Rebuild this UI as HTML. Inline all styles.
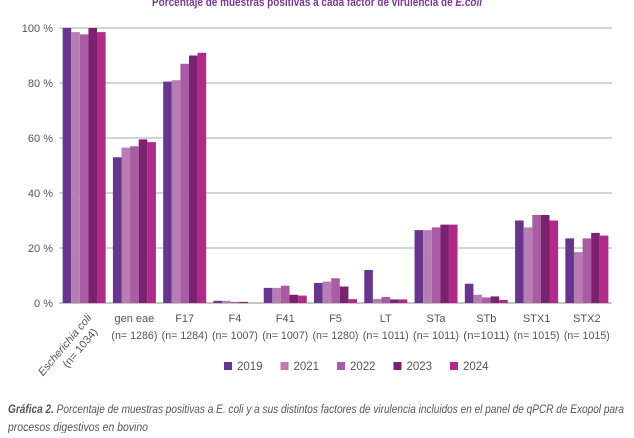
<!DOCTYPE html>
<html><head><meta charset="utf-8"><style>
body{margin:0;background:#fff;width:634px;height:433px;overflow:hidden;font-family:"Liberation Sans",sans-serif}
</style></head><body>
<svg width="634" height="433" xmlns="http://www.w3.org/2000/svg">
<text x="317" y="6" text-anchor="middle" font-size="12" font-weight="bold" fill="#7b3a96" textLength="330" lengthAdjust="spacingAndGlyphs">Porcentaje de muestras positivas a cada factor de virulencia de <tspan font-style="italic">E.coli</tspan></text>
<g id="grid"></g><g id="bars"></g><g id="labels"></g><g id="legend"></g>
<text x="8" y="413" font-size="11.5" font-style="italic" fill="#555" textLength="616" lengthAdjust="spacingAndGlyphs"><tspan font-weight="bold">Gráfica 2.</tspan> Porcentaje de muestras positivas a E. coli y a sus distintos factores de virulencia incluidos en el panel de qPCR de Exopol para</text>
<text x="8" y="431" font-size="11.5" font-style="italic" fill="#555" textLength="140" lengthAdjust="spacingAndGlyphs">procesos digestivos en bovino</text>
</svg>
<script>
const categories=["Escherichia coli","gen eae","F17","F4","F41","F5","LT","STa","STb","STX1","STX2"];
const nLabels=["(n= 1034)","(n= 1286)","(n= 1284)","(n= 1007)","(n= 1007)","(n= 1280)","(n= 1011)","(n= 1011)","(n=1011)","(n= 1015)","(n= 1015)"];
const years=["2019","2021","2022","2023","2024"];
const colors=["#67368c","#b87db5","#a95ba3","#7a2270","#b22a87"];
const v2019=[100,53,80.5,0.8,5.5,7.3,12,26.5,7,30,23.5];
const v2021=[98.5,56.5,81,0.8,5.5,7.8,1.5,26.5,3,27.5,18.5];
const v2022=[97.7,57,87,0.4,6.3,9,2.2,27.5,2,32,23.5];
const v2023=[100,59.5,90,0.4,3,6,1.3,28.5,2.4,32,25.5];
const v2024=[98.5,58.5,91,0,2.7,1.4,1.3,28.5,1.1,30,24.5];
const series=[v2019,v2021,v2022,v2023,v2024];
const ticks=[0,20,40,60,80,100];
const NS="http://www.w3.org/2000/svg";
const x0=59,x1=612,y0=303,y1=28;
const gw=(x1-x0)/categories.length,bw=8.6;
const y=v=>y0-(y0-y1)*v/100;
const gx=i=>x0+gw*i+gw/2;
function mk(t,a,p){const e=document.createElementNS(NS,t);for(const k in a)e.setAttribute(k,a[k]);p.appendChild(e);return e;}
const G=document.getElementById('grid'),B=document.getElementById('bars'),L=document.getElementById('labels'),LG=document.getElementById('legend');
ticks.forEach(t=>{
 const l=mk('line',{x1:x0,x2:x1,y1:y(t),y2:y(t),stroke:t===0?'#888':'#aaa','stroke-width':1},G);
 
 
 const tx=mk('text',{x:x0-6,y:y(t)+4,'text-anchor':'end','font-size':11,fill:'#555'},G);
 tx.textContent=t+' %';
 
 
});
categories.forEach((c,i)=>{
 series.forEach((s,j)=>{
  const r=mk('rect',{x:gx(i)-2.5*bw+j*bw,y:y(s[i]),width:bw,height:y0-y(s[i]),fill:colors[j]},B);
  
  
 });
 if(i===0){
  const t=mk('text',{x:gx(i)+8,y:318,'text-anchor':'end','font-size':11,fill:'#555','font-style':'italic',transform:`rotate(-50 ${gx(i)+8} 318)`},L);
  t.textContent=c;
  
  
  const n=mk('text',{x:gx(i)+14,y:332,'text-anchor':'end','font-size':11,fill:'#555',transform:`rotate(-50 ${gx(i)+14} 332)`},L);
  n.textContent=nLabels[i];
  
  
 } else {
  const t=mk('text',{x:gx(i),y:322,'text-anchor':'middle','font-size':11,fill:'#555'},L);
  t.textContent=c;
  
  
  const n=mk('text',{x:gx(i),y:339,'text-anchor':'middle','font-size':11,fill:'#555',textLength:46,lengthAdjust:'spacingAndGlyphs'},L);
  n.textContent=nLabels[i];
  
  
 }
});
years.forEach((yr,j)=>{
 const lx=224+j*56.5;
 const g=mk('g',{},LG);
 
 
 mk('rect',{x:lx,y:362,width:8,height:8,fill:colors[j]},g);
 const t=mk('text',{x:lx+13,y:370,'font-size':11.5,fill:'#555'},g);
 t.textContent=yr;
});
</script>
</body></html>
